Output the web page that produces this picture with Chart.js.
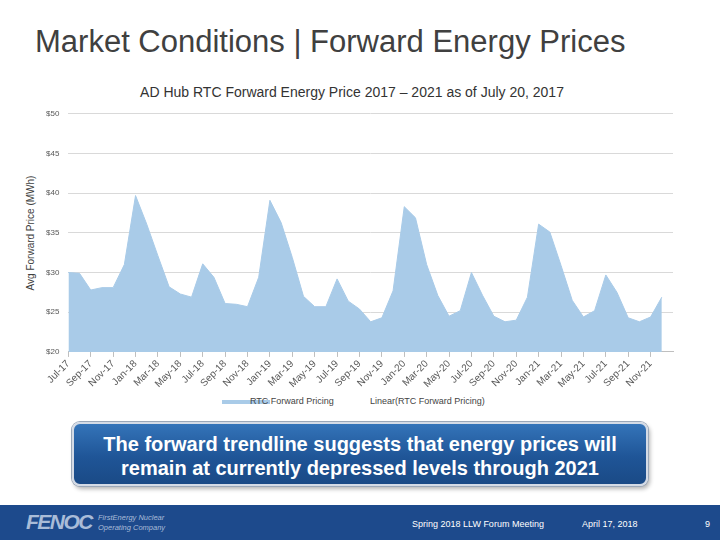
<!DOCTYPE html>
<html>
<head>
<meta charset="utf-8">
<script src="https://cdn.jsdelivr.net/npm/chart.js@4.4.1/dist/chart.umd.min.js"></script>
<style>
  body { margin: 0; width: 720px; height: 540px; background: #fff; position: relative; overflow: hidden; font-family: "Liberation Sans", Arial, sans-serif; }
  #title { position: absolute; left: 35px; top: 24px; font-size: 31px; color: #404040; }
  #subtitle { position: absolute; left: 0; width: 704px; top: 84px; text-align: center; font-size: 14px; color: #333; }
  #yTitle { position: absolute; left: 30px; top: 233px; font-size: 10px; color: #404040; white-space: nowrap;
    transform: translate(-50%, -50%) rotate(-90deg); }
  #chartBox { position: absolute; left: 37px; top: 100px; width: 640px; height: 291px; }
  #legend { position: absolute; top: 395px; left: 0; width: 720px; height: 14px; font-size: 9px; color: #444; }
  #legend .sw { position: absolute; left: 222px; top: 5px; width: 48px; height: 4px; background: #a9cbe8; }
  #legend .t1 { position: absolute; left: 250px; top: 1px; }
  #legend .t2 { position: absolute; left: 370px; top: 1px; }
  #banner { position: absolute; left: 72px; top: 422px; width: 576px; height: 64px; border-radius: 8px;
    border: 2px solid #d4dbe6; box-shadow: 0 0 0 1px #9aa7b8, 2px 3px 4px rgba(0,0,0,0.3);
    background: linear-gradient(#3474b9, #1f5597 55%, #1a4a86); color: #fff; font-weight: bold; font-size: 20px;
    text-align: center; line-height: 24px; padding-top: 8px; box-sizing: border-box; }
  #footer { position: absolute; left: 0; top: 505px; width: 720px; height: 35px; background: #1d4a8c; color: #fff; }
  #logo { position: absolute; left: 26px; top: 5px; font-size: 21px; font-weight: bold; font-style: italic; color: #a9bcd8; letter-spacing: -1.5px; }
  #logoSub { position: absolute; left: 98px; top: 8px; font-size: 7.5px; font-style: italic; color: #a9bcd8; line-height: 10px; }
  .ft { position: absolute; top: 14px; font-size: 9px; color: #fff; }
</style>
</head>
<body>
<div id="title">Market Conditions | Forward Energy Prices</div>
<div id="subtitle">AD Hub RTC Forward Energy Price 2017 – 2021 as of July 20, 2017</div>
<div id="yTitle">Avg Forward Price (MWh)</div>
<div id="chartBox"><canvas id="myChart"></canvas></div>
<div id="legend">
  <div class="sw"></div>
  <span class="t1">RTC Forward Pricing</span>
  <span class="t2">Linear(RTC Forward Pricing)</span>
</div>
<div id="banner">The forward trendline suggests that energy prices will<br>remain at currently depressed levels through 2021</div>
<div id="footer">
  <div id="logo">FENOC</div>
  <div id="logoSub">FirstEnergy Nuclear<br>Operating Company</div>
  <span class="ft" style="left:412px">Spring 2018 LLW Forum Meeting</span>
  <span class="ft" style="left:582px">April 17, 2018</span>
  <span class="ft" style="left:705px">9</span>
</div>
<script>
const months = [
    'Jul-17', 'Aug-17', 'Sep-17', 'Oct-17', 'Nov-17', 'Dec-17',
    'Jan-18', 'Feb-18', 'Mar-18', 'Apr-18', 'May-18', 'Jun-18',
    'Jul-18', 'Aug-18', 'Sep-18', 'Oct-18', 'Nov-18', 'Dec-18',
    'Jan-19', 'Feb-19', 'Mar-19', 'Apr-19', 'May-19', 'Jun-19',
    'Jul-19', 'Aug-19', 'Sep-19', 'Oct-19', 'Nov-19', 'Dec-19',
    'Jan-20', 'Feb-20', 'Mar-20', 'Apr-20', 'May-20', 'Jun-20',
    'Jul-20', 'Aug-20', 'Sep-20', 'Oct-20', 'Nov-20', 'Dec-20',
    'Jan-21', 'Feb-21', 'Mar-21', 'Apr-21', 'May-21', 'Jun-21',
    'Jul-21', 'Aug-21', 'Sep-21', 'Oct-21', 'Nov-21', 'Dec-21',
    '' // axis runs one month past the last price
];

const rtcPrices = [
    30.0, 29.9, 27.8, 28.1, 28.1, 31.0,
    39.7, 36.1, 32.1, 28.2, 27.3, 26.9,
    31.1, 29.4, 26.1, 26.0, 25.7, 29.4,
    39.1, 36.3, 31.9, 27.0, 25.7, 25.7,
    29.2, 26.4, 25.4, 23.8, 24.3, 27.7,
    38.3, 36.9, 31.0, 27.1, 24.5, 25.2,
    30.0, 27.1, 24.5, 23.8, 24.0, 26.9,
    36.1, 35.1, 30.9, 26.5, 24.4, 25.2,
    29.7, 27.5, 24.3, 23.8, 24.4, 26.9
];

const yTicks = [20, 25, 30, 35, 40, 45, 50];

const data = {
    labels: months,
    datasets: [{
        label: 'RTC Forward Pricing',
        data: rtcPrices,
        backgroundColor: '#a9cbe8',
        borderColor: '#a9cbe8',
        borderWidth: 1,
        pointRadius: 0,
        fill: 'start',
        tension: 0
    }]
};

const config = {
    type: 'line',
    data: data,
    options: {
        responsive: true,
        maintainAspectRatio: false,
        animation: false,
        layout: { padding: { top: 6, right: 4 } },
        plugins: {
            legend: { display: false },
            tooltip: { enabled: false }
        },
        scales: {
            x: {
                offset: false,
                border: { color: '#bfbfbf' },
                grid: {
                    drawOnChartArea: false,
                    tickLength: 5,
                    color: '#bfbfbf'
                },
                ticks: {
                    autoSkip: false,
                    maxRotation: 45,
                    minRotation: 45,
                    color: '#595959',
                    font: { family: 'Liberation Sans', size: 10 },
                    padding: 1,
                    callback: function (value, index) {
                        // every other month gets a label and a tick mark
                        if (index % 2 !== 0 || months[index] === '') return null;
                        return months[index];
                    }
                }
            },
            y: {
                min: yTicks[0],
                max: yTicks[yTicks.length - 1],
                border: { display: false },
                grid: { color: '#d9d9d9', drawTicks: false },
                ticks: {
                    stepSize: 5,
                    padding: 9,
                    color: '#595959',
                    font: { family: 'Liberation Sans', size: 8 },
                    callback: function (v) { return '$' + v; }
                }
            }
        }
    }
};

const myChart = new Chart(
    document.getElementById('myChart'),
    config
);
</script>
</body>
</html>
